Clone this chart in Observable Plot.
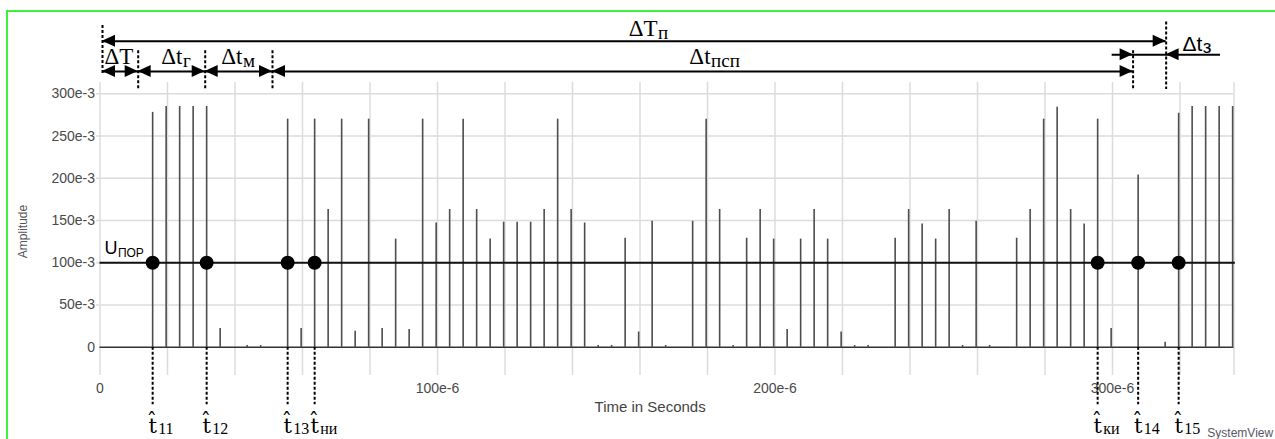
<!DOCTYPE html>
<html><head><meta charset="utf-8">
<script src="https://cdn.jsdelivr.net/npm/d3@7"></script>
<script src="https://cdn.jsdelivr.net/npm/@observablehq/plot@0.6"></script>
<style>
html,body{margin:0;padding:0;background:#fff;overflow:hidden;}
#wrap{position:relative;width:1275px;height:439px;overflow:hidden;}
#frame{position:absolute;left:6px;top:10px;width:1400px;height:600px;border-left:2px solid #3cf03c;border-top:2px solid #3cf03c;pointer-events:none;}
</style></head><body><div id="wrap"><div id="chart"></div><div id="frame"></div></div>
<script>
// ---- data (times in microseconds, amplitudes in milli-units) ----
const sampleTimesUs = [15.6,19.6,23.6,27.6,31.6,35.6,39.6,43.6,47.6,51.6,55.6,59.6,63.6,67.6,71.6,75.6,79.6,83.6,87.6,91.6,95.6,99.6,103.6,107.6,111.6,115.6,119.6,123.6,127.6,131.6,135.6,139.6,143.6,147.6,151.6,155.6,159.6,163.6,167.6,171.6,175.6,179.6,183.6,187.6,191.6,195.6,199.6,203.6,207.6,211.6,215.6,219.6,223.6,227.6,231.6,235.6,239.6,243.6,247.6,251.6,255.6,259.6,263.6,267.6,271.6,275.6,279.6,283.6,287.6,291.6,295.6,299.6,303.6,307.6,311.6,315.6,319.6,323.6,327.6,331.6,335.6];
const amplitudesMilli = [278,285,285,285,285,22,0,2,2,0,270,22,270,163,270,19,270,22,128,21,270,147,163,270,163,128,148,148,148,163,270,163,147,2,2,129,18,149,2,0,149,270,163,2,129,163,128,21,128,163,128,18,2,2,0,129,163,146,128,163,2,149,2,0,129,163,270,284,163,146,270,22,0,204,0,6,277,285,285,285,285];

const thresholdMilli = 100;
const crossTimesUs = [15.6, 31.6, 55.6, 63.6, 295.6, 307.6, 319.6];
const crossSubs = ["11", "12", "13", "ни", "ки", "14", "15"];

const yTicksMilli = [0, 50, 100, 150, 200, 250, 300];
const yTickLabels = ["0", "50e-3", "100e-3", "150e-3", "200e-3", "250e-3", "300e-3"];
const xTicksUs = [0, 100, 200, 300];
const xTickLabels = ["0", "100e-6", "200e-6", "300e-6"];
const xGridUs = [0, 20, 40, 60, 80, 100, 120, 140, 160, 180, 200, 220, 240, 260, 280, 300, 320, 336];

// annotation guides (top)
const guideXUs = [0.74, 11.32, 31.17, 51.11, 306.1, 315.9];
const guideFromMilli = [381, 351, 351, 351, 351, 385];
const guideToMilli = [324, 305, 305, 305, 306, 305];
// dimension lines
const dimX1Us = [0.74, 0.74, 299.9];
const dimX2Us = [315.9, 306.1, 332.0];
const dimYMilli = [362.3, 326.4, 346.2];
// arrowheads: tip position and direction (-1 points left, 1 points right)
const headXUs = [0.74, 315.9, 0.74, 11.32, 11.32, 31.17, 31.17, 51.11, 51.11, 306.1, 306.1, 315.9];
const headYMilli = [362.3, 362.3, 326.4, 326.4, 326.4, 326.4, 326.4, 326.4, 326.4, 326.4, 346.2, 346.2];
const headDir = [-1, 1, -1, 1, -1, 1, -1, 1, -1, 1, 1, -1];
// dimension labels (serif)
const dimLabelSplitUs = [165.2, 24.44, 42.22, 180.9];
const dimLabelMain = ["ΔT", "Δt", "Δt", "Δt"];
const dimLabelSub = ["п", "г", "м", "псп"];
const dimLabelYMilli = [368.4, 334.7, 334.7, 334.7];
const dimLabelSubYMilli = [365.3, 331.6, 331.6, 331.6];

const US = 1e-6, MILLI = 1e-3;
const headLenUs = 3.85, headHalfMilli = 7.1;

const spikes = sampleTimesUs.map((t, i) => ({t: t * US, a: amplitudesMilli[i] * MILLI}));
const heads = headXUs.flatMap((x, i) => {
  const tip = x * US, y = headYMilli[i] * MILLI, back = tip - headDir[i] * headLenUs * US;
  return [{id: i, x: tip, y1: y, y2: y}, {id: i, x: back, y1: y - headHalfMilli * MILLI, y2: y + headHalfMilli * MILLI}];
});
const thr = thresholdMilli * MILLI;
const sans = "Liberation Sans, Arial, sans-serif";
const serif = "Liberation Serif, Times New Roman, serif";
const idx = a => a.map((_, i) => i);

const chart = Plot.plot({
  width: 1275, height: 439,
  x: {domain: [0, 336e-6], range: [99.5, 1233.5], axis: null},
  y: {domain: [0, 0.3], range: [346.7, 93.3], axis: null},
  style: {background: "white", overflow: "visible"},
  marks: [
    // grid
    Plot.ruleX(xGridUs, {x: d => d * US, y1: -0.0335, y2: 0.3134, stroke: "#dcdcdc", strokeWidth: 1.5}),
    Plot.ruleY(yTicksMilli.slice(1), {y: d => d * MILLI, x1: -1 * US, x2: 336 * US, stroke: "#dcdcdc", strokeWidth: 1.5}),
    // tick labels
    Plot.text(idx(yTicksMilli), {x: 0, y: i => yTicksMilli[i] * MILLI, text: i => yTickLabels[i], textAnchor: "end", dx: -5, lineAnchor: "middle", fontFamily: sans, fontSize: 14, fill: "#4a4a4a"}),
    Plot.text(idx(xTicksUs), {x: i => xTicksUs[i] * US, y: -0.0485, text: i => xTickLabels[i], textAnchor: "middle", lineAnchor: "middle", fontFamily: sans, fontSize: 14, fill: "#4a4a4a"}),
    Plot.text(["Amplitude"], {x: -22.7 * US, y: 0.137, text: d => d, rotate: -90, textAnchor: "middle", lineAnchor: "middle", fontFamily: sans, fontSize: 12, fill: "#555"}),
    Plot.text(["Time in Seconds"], {x: 163 * US, y: -0.071, text: d => d, textAnchor: "middle", lineAnchor: "middle", fontFamily: sans, fontSize: 15, fill: "#444"}),
    Plot.text(["SystemView"], {x: 328.1 * US, y: -0.102, text: d => d, textAnchor: "start", lineAnchor: "middle", fontFamily: sans, fontSize: 12, fill: "#556"}),
    // spikes
    Plot.ruleX(spikes.filter(d => d.a > 0), {x: "t", y1: 0, y2: "a", stroke: "#4d4d4d", strokeWidth: 1.6}),
    // baseline and threshold
    Plot.ruleY([0], {x1: 0, x2: 336 * US, stroke: "#333", strokeWidth: 1.5}),
    Plot.ruleY([thr], {x1: 0, x2: 336.4 * US, stroke: "#111", strokeWidth: 2}),
    Plot.text(["U"], {x: 1.33 * US, y: 0.1109, text: d => d, textAnchor: "start", lineAnchor: "bottom", fontFamily: sans, fontSize: 18, fill: "black"}),
    Plot.text(["ПОР"], {x: 5.3 * US, y: 0.1068, text: d => d, textAnchor: "start", lineAnchor: "bottom", fontFamily: sans, fontSize: 12, fill: "black"}),
    // crossings
    Plot.ruleX(crossTimesUs, {x: d => d * US, y1: 0, y2: -0.068, stroke: "black", strokeWidth: 2, strokeDasharray: "3,2"}),
    Plot.dot(crossTimesUs, {x: d => d * US, y: thr, r: 7, fill: "black"}),
    Plot.text(crossTimesUs, {x: d => d * US, y: -0.1013, text: () => "t\u0302", textAnchor: "middle", lineAnchor: "bottom", fontFamily: "DejaVu Serif, serif", fontSize: 21, fill: "black"}),
    Plot.text(idx(crossTimesUs), {x: i => crossTimesUs[i] * US, y: -0.103, text: i => crossSubs[i], textAnchor: "start", dx: 5.5, lineAnchor: "bottom", fontFamily: serif, fontSize: 16, fill: "black"}),
    // top annotations
    Plot.ruleX(idx(guideXUs), {x: i => guideXUs[i] * US, y1: i => guideFromMilli[i] * MILLI, y2: i => guideToMilli[i] * MILLI, stroke: "black", strokeWidth: 2, strokeDasharray: "3,2"}),
    Plot.ruleY(idx(dimYMilli), {y: i => dimYMilli[i] * MILLI, x1: i => dimX1Us[i] * US, x2: i => dimX2Us[i] * US, stroke: "black", strokeWidth: 2}),
    Plot.areaY(heads, {x: "x", y1: "y1", y2: "y2", z: "id", fill: "black"}),
    Plot.text(idx(dimLabelSplitUs), {x: i => dimLabelSplitUs[i] * US, y: i => dimLabelYMilli[i] * MILLI, text: i => dimLabelMain[i], textAnchor: "end", lineAnchor: "bottom", fontFamily: serif, fontSize: 23, fill: "black"}),
    Plot.text(idx(dimLabelSplitUs), {x: i => dimLabelSplitUs[i] * US, y: i => dimLabelSubYMilli[i] * MILLI, text: i => dimLabelSub[i], textAnchor: "start", dx: 0.5, lineAnchor: "bottom", fontFamily: serif, fontSize: 19, fill: "black"}),
    Plot.text(["ΔT"], {x: 5.63 * US, y: 0.3347, text: d => d, textAnchor: "middle", lineAnchor: "bottom", fontFamily: serif, fontSize: 23, fill: "black"}),
    Plot.text(["Δt"], {x: 326.6 * US, y: 0.3512, text: d => d, textAnchor: "end", lineAnchor: "bottom", fontFamily: sans, fontSize: 21, fill: "black"}),
    Plot.text(["з"], {x: 326.6 * US, y: 0.3483, text: d => d, textAnchor: "start", dx: 0.5, lineAnchor: "bottom", fontFamily: sans, fontSize: 19, fill: "black"})
  ]
});
document.getElementById("chart").appendChild(chart);
</script>
</body></html>
